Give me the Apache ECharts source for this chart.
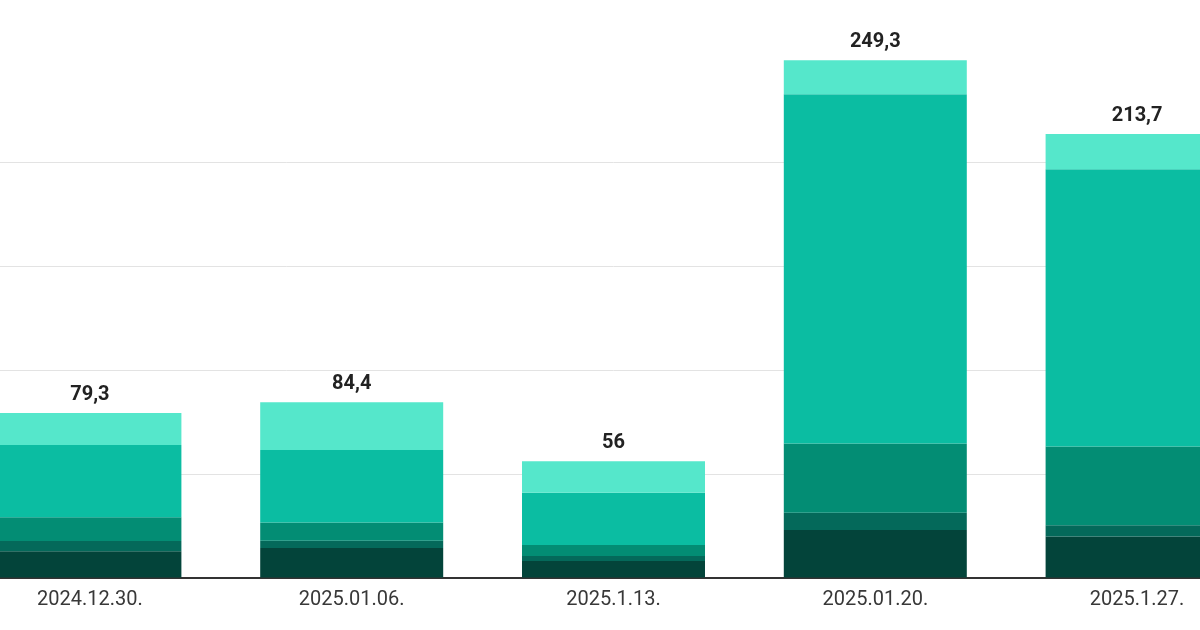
<!DOCTYPE html>
<html>
<head>
<meta charset="utf-8">
<script src="https://cdn.jsdelivr.net/npm/echarts@6/dist/echarts.min.js"></script>
<style>
  html, body { margin: 0; padding: 0; background: #ffffff; width: 1200px; height: 630px; overflow: hidden; position: relative; }
  #chart { position: absolute; left: -41px; top: 0; width: 1309px; height: 630px; }
</style>
</head>
<body>
<div id="chart"></div>
<script>
const categories = ['2024.12.30.', '2025.01.06.', '2025.1.13.', '2025.01.20.', '2025.1.27.'];
const seg1 = [12.6, 14.2, 8.0, 22.9, 19.7];   // darkest (bottom)
const seg2 = [5.0, 3.5, 2.4, 8.3, 5.5];
const seg3 = [11.4, 8.8, 5.3, 33.4, 37.9];
const seg4 = [34.8, 34.9, 25.2, 168.3, 133.7];
const seg5 = [15.5, 23.0, 15.1, 16.4, 16.9];  // lightest (top)
const totals = [79.3, 84.4, 56, 249.3, 213.7];
const yTicks = [0, 50, 100, 150, 200, 250];

const colors = ['#03443a', '#04695a', '#038d74', '#0bbda2', '#55e7cb'];
const segments = [seg1, seg2, seg3, seg4, seg5];

const chart = echarts.init(document.getElementById('chart'), null, { renderer: 'canvas' });

const series = segments.map((d, i) => ({
  type: 'bar',
  stack: 'total',
  data: d,
  barWidth: 183,
  itemStyle: { color: colors[i] },
  label: i === segments.length - 1 ? {
    show: true,
    position: 'top',
    distance: 8,
    fontFamily: 'Roboto',
    fontSize: 20,
    fontWeight: 'bold',
    color: '#222222',
    formatter: (p) => String(totals[p.dataIndex]).replace('.', ',')
  } : { show: false }
}));

chart.setOption({
  animation: false,
  backgroundColor: '#ffffff',
  grid: { left: 0, right: 0, top: 58.75, bottom: 52.5, containLabel: false },
  xAxis: {
    type: 'category',
    data: categories,
    axisLine: { show: true, lineStyle: { color: '#333333', width: 2 } },
    axisTick: { show: false },
    axisLabel: {
      fontFamily: 'Roboto',
      fontSize: 20,
      color: '#383838',
      margin: 12
    }
  },
  yAxis: {
    type: 'value',
    min: yTicks[0],
    max: yTicks[yTicks.length - 1],
    interval: yTicks[1] - yTicks[0],
    axisLine: { show: false },
    axisTick: { show: false },
    axisLabel: { show: false },
    splitLine: { show: true, showMaxLine: false, lineStyle: { color: '#e3e3e3', width: 1 } }
  },
  series: series
});
</script>
</body>
</html>
